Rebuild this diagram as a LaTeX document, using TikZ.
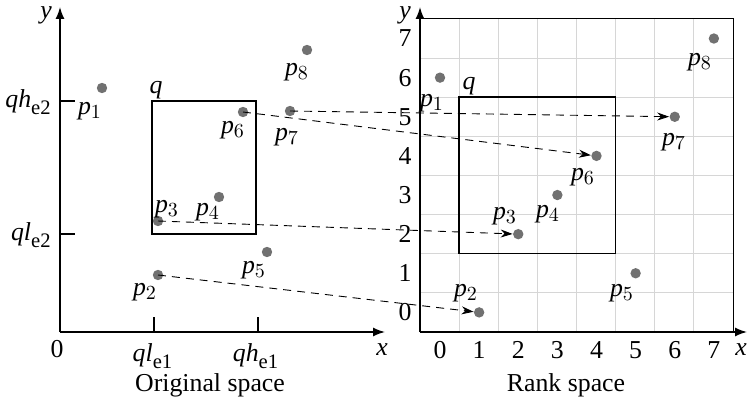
\documentclass[tikz,border=0pt]{standalone}
\usepackage{fontspec}
\setmainfont{Liberation Serif}
\usetikzlibrary{arrows.meta}
\DeclareMathSizes{12.9}{12.9}{10.3}{8}
\definecolor{Dot}{HTML}{717171}
\definecolor{Grid}{HTML}{D6D6D6}
\definecolor{Ink}{HTML}{000000}
\tikzset{
  dot/.style={circle,fill=Dot,inner sep=0pt,minimum size=5.2pt},
  axis/.style={line width=0.75pt,draw=Ink,-{Latex[length=6pt,width=4.5pt]}},
  box/.style={line width=0.7pt,draw=Ink},
  map/.style={dash pattern=on 4pt off 3pt,line width=0.45pt,-{Stealth[length=6pt,width=4pt]}},
  lbl/.style={inner sep=0pt,text=Ink},
}
\newcommand{\pn}[1]{$\mathit{p}_{#1}$}

\begin{document}
\begin{tikzpicture}[x=0.5pt,y=-0.5pt,font=\fontsize{12.9}{15}\selectfont]
\useasboundingbox (0,0) rectangle (748,406);

% original space
\draw[axis] (60,332) -- (385,332);
\draw[axis] (60,332) -- (60,7);
\node[lbl] (xo) at (382,350) {$\mathit{x}$};
\node[lbl] (yo) at (46,15) {$\mathit{y}$};
\node[lbl] (zero) at (57,349) {0};
\draw[box] (60,101) -- (75,101);
\draw[box] (60,234) -- (75,234);
\draw[box] (154,317) -- (154,332);
\draw[box] (258,317) -- (258,332);
\node[lbl,anchor=east] (qhe2) at (52,102) {$\mathit{qh}_{\mathrm{e2}}$};
\node[lbl,anchor=east] (qle2) at (52,235) {$\mathit{ql}_{\mathrm{e2}}$};
\node[lbl] (qle1) at (153,356) {$\mathit{ql}_{\mathrm{e1}}$};
\node[lbl] (qhe1) at (256,356) {$\mathit{qh}_{\mathrm{e1}}$};
\draw[box] (152,101) rectangle (256,234);
\node[lbl] (qo) at (156,90) {$\mathit{q}$};
\foreach \i/\px/\py/\lx/\ly in {
  1/102/88/90/111,
  2/158/275/145/292,
  3/158/221/167/209,
  4/219/197/208/212,
  5/267/252/254/270,
  6/243/112/233/130,
  7/290/111/287/137,
  8/307/50/297/72}{
  \node[dot] (l\i) at (\px,\py) {};
  \node[lbl] (lp\i) at (\lx,\ly) {\pn{\i}};
}
\node[lbl] (orig) at (210,385) {Original space};

% rank space
\foreach \k in {1,...,7}{
  \draw[Grid,line width=0.5pt] ({420+39.125*\k},332) -- ({420+39.125*\k},19);
  \draw[Grid,line width=0.5pt] (420,{332-39.125*\k}) -- (733,{332-39.125*\k});
}
\draw[line width=0.5pt,draw=Ink] (420,19) -- (733,19) -- (733,332);
\draw[axis] (420,332) -- (747,332);
\draw[axis] (420,332) -- (420,7);
\node[lbl] (xr) at (741,350) {$\mathit{x}$};
\node[lbl] (yr) at (405,15) {$\mathit{y}$};
\foreach \k in {0,...,7}{
  \node[lbl] (tx\k) at ({440+39.125*\k},350) {\k};
  \node[lbl] (ty\k) at (405,{312.4-39.125*\k}) {\k};
}
\draw[box] (459.1,97.2) rectangle (615.6,253.7);
\node[lbl] (qr) at (469,86) {$\mathit{q}$};
\foreach \i/\r/\s/\lx/\ly in {
  1/0/6/432/103,
  2/1/0/466/293,
  3/2/2/505/216,
  4/3/3/548/214,
  5/5/1/622/293,
  6/4/4/583/177,
  7/6/5/674/142,
  8/7/7/700/62}{
  \node[dot] (r\i) at ({440+39.125*\r},{312.4-39.125*\s}) {};
  \node[lbl] (rp\i) at (\lx,\ly) {\pn{\i}};
}
\node[lbl] (rank) at (566,385) {Rank space};

\foreach \i in {2,3,6,7}
  \draw[map] (l\i.center) -- (r\i);
\end{tikzpicture}
\end{document}
